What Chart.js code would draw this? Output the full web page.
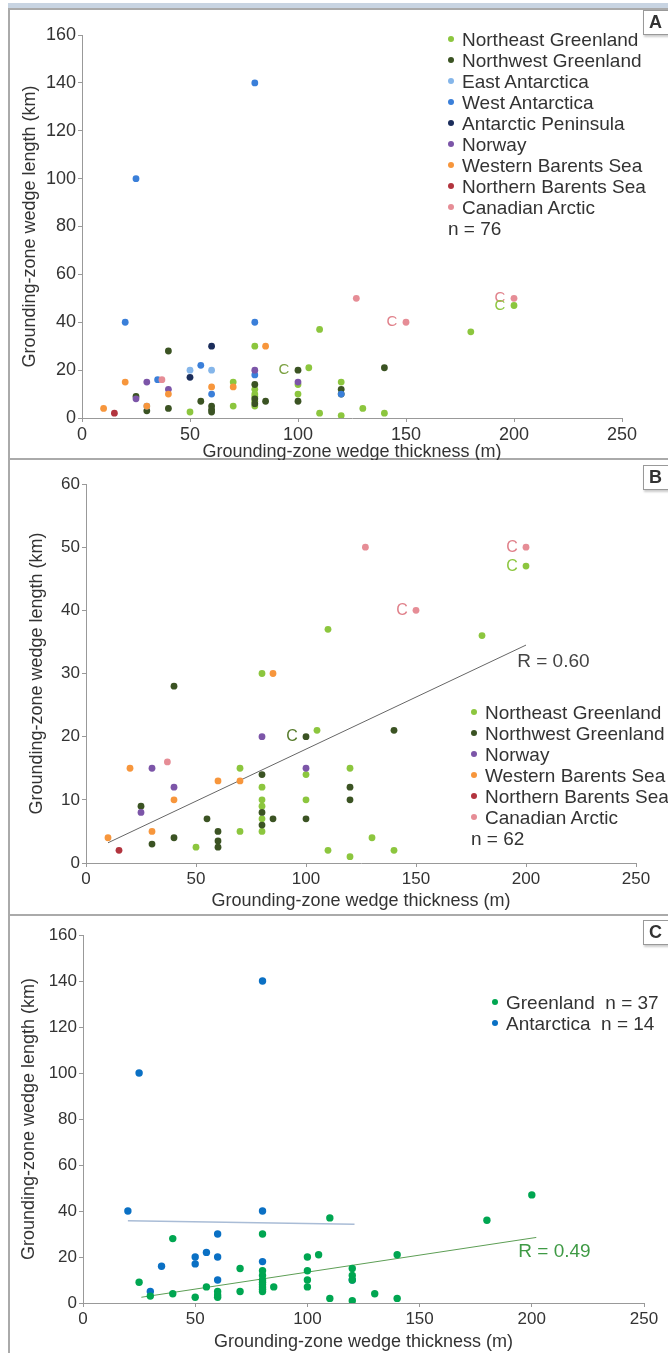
<!DOCTYPE html>
<html lang="en">
<head>
  <meta charset="UTF-8">
  <title>Grounding-zone wedge dimensions</title>
  <script src="https://cdn.jsdelivr.net/npm/chart.js"></script>
  <style>
    body {
      margin: 0;
      width: 668px;
      height: 1353px;
      overflow: hidden;
      position: relative;
      background: #fff;
      font-family: "Liberation Sans", Arial, sans-serif;
      color: #333;
    }
    .strip { position: absolute; left: 8px; top: 3px; width: 680px; height: 6px; background: #c8d4e2; }
    .frame { position: absolute; left: 8px; width: 700px; border: 2px solid #aaa; border-right: none; box-sizing: border-box; }
    canvas { position: absolute; left: 0; }
    .legend { position: absolute; font-size: 19px; line-height: 21px; z-index: 2; }
    .legend div { white-space: pre; }
    .legend i { display: inline-block; width: 6px; height: 6px; border-radius: 50%; margin-right: 8px; vertical-align: middle; position: relative; top: -2px; }
    .tag { position: absolute; left: 643px; width: 30px; height: 23px; border: 1px solid #999; background: #fff; font-weight: bold; font-size: 18px; line-height: 23px; padding-left: 5px; box-shadow: 1px 2px 2px #ccc; z-index: 2; }
  </style>
</head>
<body>
  <div class="strip"></div>
  <div class="frame" style="top:8px;height:452px"></div>
  <div class="frame" style="top:458px;height:458px"></div>
  <div class="frame" style="top:914px;height:442px"></div>

  <canvas id="chartA" width="668" height="448" style="top:12px"></canvas>
  <canvas id="chartB" width="668" height="452" style="top:462px"></canvas>
  <canvas id="chartC" width="668" height="435" style="top:917px"></canvas>

  <div class="tag" style="top:10px">A</div>
  <div class="tag" style="top:465px">B</div>
  <div class="tag" style="top:920px">C</div>

  <div class="legend" id="legendA" style="left:448px;top:29px"></div>
  <div class="legend" id="legendB" style="left:471px;top:702px"></div>
  <div class="legend" id="legendC" style="left:492px;top:992px"></div>

  <script>
    // thickness (m), length (km) for each region
    const neGreenland = [[50,2.5],[70,15],[70,5],[80,30],[80,12],[80,10],[80,9],[80,7],[80,5],[100,14],[100,10],[105,21],[110,37],[110,2],[120,15],[120,1],[130,4],[140,2],[180,36],[200,47]];
    const nwGreenland = [[25,9],[30,3],[40,28],[40,4],[55,7],[60,5],[60,3.5],[60,2.5],[80,14],[80,8],[80,6],[85,7],[100,20],[100,7],[120,12],[120,10],[140,21]];
    const eastAntarctica = [[50,20],[60,20],[30,5]];
    const westAntarctica = [[25,100],[80,140],[20,40],[80,40],[55,22],[35,16],[60,10],[80,18],[120,10]];
    const antarcticPeninsula = [[60,30],[50,17]];
    const norway = [[25,8],[30,15],[40,12],[80,20],[100,15]];
    const westernBarents = [[10,4],[20,15],[30,5],[40,10],[60,13],[70,13],[85,30]];
    const northernBarents = [[15,2]];
    const canadianArctic = [[37,16],[127,50],[150,40],[200,50]];

    // fitted lines (end points)
    const trendB = [[10,3.2],[200,34.5]];
    const trendGreenland = [[26,2.5],[202,28.5]];
    const trendAntarctica = [[20,35.8],[121,34.2]];

    // points marked with "C"
    const markedA = [[100,20,'#7aa040'],[150,40,'#e0808a'],[200,50,'#e0808a'],[200,47,'#8cc63e']];
    const markedB = [[100,20,'#557a2a'],[150,40,'#e0808a'],[200,50,'#e0808a'],[200,47,'#8cc63e']];

    const colors = {
      ne: '#8cc63e', nw: '#3b5323', east: '#85b6ea', west: '#3a7fd9', pen: '#1b2d5b',
      norway: '#7c55a8', wb: '#f7963c', nb: '#b2343e', ca: '#e68d96',
      green: '#00a651', blue: '#0a70c4'
    };

    const toXY = pts => pts.map(p => ({ x: p[0], y: p[1] }));

    function dots(label, pts, color, r, i) {
      return { label, data: toXY(pts), backgroundColor: color, borderColor: color, borderWidth: 0, pointRadius: r, order: -i };
    }
    function trend(pts, color, w) {
      return { label: 'trend', data: toXY(pts), showLine: true, borderColor: color, borderWidth: w, pointRadius: 0, order: 50 };
    }

    function axes(c) {
      return {
        x: {
          type: 'linear', min: 0, max: 250,
          afterFit: s => { s.height = c.xh; },
          ticks: { stepSize: 50, color: '#333', font: { size: c.tick }, padding: 2 },
          grid: { drawOnChartArea: false, tickLength: 4, color: '#999' },
          border: { color: '#999' },
          title: { display: true, text: 'Grounding-zone wedge thickness (m)', color: '#333', font: { size: c.title }, padding: { top: 0, bottom: c.xtp } }
        },
        y: {
          type: 'linear', min: 0, max: c.ymax,
          afterFit: s => { s.width = c.yw; },
          ticks: { stepSize: c.ystep, color: '#333', font: { size: c.tick }, padding: 2 },
          grid: { drawOnChartArea: false, tickLength: 4, color: '#999' },
          border: { color: '#999' },
          title: { display: true, text: 'Grounding-zone wedge length (km)', color: '#333', font: { size: c.title }, padding: { top: c.ytp, bottom: 0 } }
        }
      };
    }

    const notes = {
      id: 'notes',
      afterDatasetsDraw(chart, args, opts) {
        const ctx = chart.ctx, x = chart.scales.x, y = chart.scales.y;
        ctx.save();
        ctx.textBaseline = 'middle';
        (opts.marks || []).forEach(m => {
          ctx.font = opts.markFont;
          ctx.fillStyle = m[2];
          ctx.textAlign = 'center';
          ctx.fillText('C', x.getPixelForValue(m[0]) - 14, y.getPixelForValue(m[1]));
        });
        if (opts.r) {
          ctx.font = '19px "Liberation Sans", Arial, sans-serif';
          ctx.fillStyle = opts.r.color;
          ctx.textAlign = 'left';
          ctx.fillText(opts.r.text, x.getPixelForValue(opts.r.at[0]), y.getPixelForValue(opts.r.at[1]));
        }
        ctx.restore();
      }
    };

    Chart.defaults.font.family = '"Liberation Sans", Arial, sans-serif';

    function makeChart(id, datasets, c, noteOpts) {
      new Chart(document.getElementById(id), {
        type: 'scatter',
        data: { datasets },
        options: {
          responsive: false,
          animation: false,
          layout: { padding: { top: c.top, right: c.right, left: 0, bottom: 0 } },
          scales: axes(c),
          plugins: { legend: { display: false }, tooltip: { enabled: false }, notes: noteOpts }
        },
        plugins: [notes]
      });
    }

    // Panel A: all regions
    const setA = [
      ['Northeast Greenland', neGreenland, colors.ne],
      ['Northwest Greenland', nwGreenland, colors.nw],
      ['East Antarctica', eastAntarctica, colors.east],
      ['West Antarctica', westAntarctica, colors.west],
      ['Antarctic Peninsula', antarcticPeninsula, colors.pen],
      ['Norway', norway, colors.norway],
      ['Western Barents Sea', westernBarents, colors.wb],
      ['Northern Barents Sea', northernBarents, colors.nb],
      ['Canadian Arctic', canadianArctic, colors.ca]
    ];
    makeChart('chartA', setA.map((s, i) => dots(s[0], s[1], s[2], 3.4, i)),
      { top: 23, right: 46, yw: 82, xh: 42, ymax: 160, ystep: 20, tick: 18, title: 18, xtp: -3, ytp: 19 },
      { marks: markedA, markFont: '15px "Liberation Sans", Arial, sans-serif' });

    // Panel B: without Antarctica
    const setB = [setA[0], setA[1], setA[5], setA[6], setA[7], setA[8]];
    makeChart('chartB', setB.map((s, i) => dots(s[0], s[1], s[2], 3.4, i)).concat([trend(trendB, '#666', 1)]),
      { top: 22, right: 32, yw: 86, xh: 51, ymax: 60, ystep: 10, tick: 17, title: 18, xtp: 2, ytp: 26 },
      { marks: markedB, markFont: '16px "Liberation Sans", Arial, sans-serif', r: { text: 'R = 0.60', color: '#444', at: [196, 31.8] } });

    // Panel C: Greenland vs Antarctica
    const greenland = neGreenland.concat(nwGreenland);
    const antarctica = eastAntarctica.concat(westAntarctica, antarcticPeninsula);
    makeChart('chartC', [
        dots('Greenland', greenland, colors.green, 3.7, 1),
        dots('Antarctica', antarctica, colors.blue, 3.7, 0),
        trend(trendGreenland, '#5d9e55', 1),
        trend(trendAntarctica, '#a9bcd6', 1.5)
      ],
      { top: 18, right: 24, yw: 83, xh: 49, ymax: 160, ystep: 20, tick: 17, title: 18, xtp: -1, ytp: 18 },
      { marks: [], r: { text: 'R = 0.49', color: '#3f9a45', at: [194, 22.2] } });

    // HTML legends
    function fillLegend(id, items, foot) {
      const box = document.getElementById(id);
      items.forEach(it => {
        const row = document.createElement('div');
        row.innerHTML = '<i style="background:' + it[1] + '"></i>' + it[0];
        box.appendChild(row);
      });
      if (foot) {
        const row = document.createElement('div');
        row.textContent = foot;
        box.appendChild(row);
      }
    }
    fillLegend('legendA', setA.map(s => [s[0], s[2]]), 'n = 76');
    fillLegend('legendB', setB.map(s => [s[0], s[2]]), 'n = 62');
    fillLegend('legendC', [['Greenland  n = 37', colors.green], ['Antarctica  n = 14', colors.blue]]);
  </script>
</body>
</html>
